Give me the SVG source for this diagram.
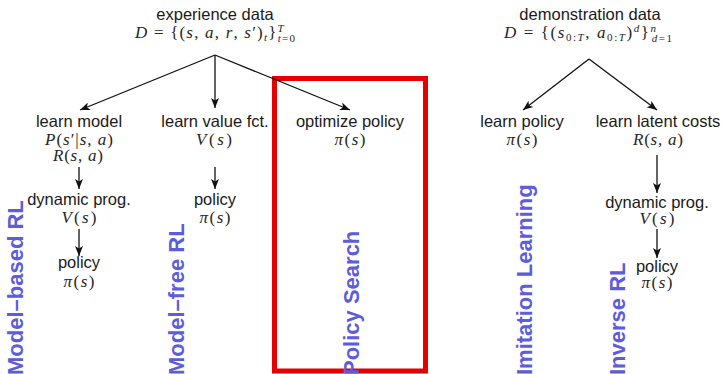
<svg xmlns="http://www.w3.org/2000/svg" width="724" height="374" viewBox="0 0 724 374">
<defs>
<marker id="ah" viewBox="0 0 10 8" refX="10" refY="4" markerWidth="11" markerHeight="8" markerUnits="userSpaceOnUse" orient="auto">
<path d="M0,0 L10,4 L0,8 L2.5,4 z" fill="#111"/>
</marker>
<style>
.t{font-family:"Liberation Sans",Arial,sans-serif;font-size:16.5px;fill:#1a1a1a;text-anchor:middle}
.m{font-family:"Liberation Serif","Times New Roman",serif;font-size:17px;fill:#262626;text-anchor:middle}
.i{font-style:italic}
.sub{font-size:11px}
.b{font-family:"Liberation Sans",Arial,sans-serif;font-size:22px;font-weight:bold;fill:#5c5cdc}
.c{stroke:#111;stroke-width:1.3;fill:none;marker-end:url(#ah)}
</style>
</defs>
<rect width="724" height="374" fill="#fff"/>

<g id="policy-search-box">
<rect x="274.5" y="78.5" width="151" height="292.5" fill="none" stroke="#e60000" stroke-width="5"/>
</g>

<g id="connectors">
<path class="c" d="M215,55 L80,110"/>
<path class="c" d="M215,55 L215,108"/>
<path class="c" d="M215,55 L350,110"/>
<path class="c" d="M79,167 L79,189"/>
<path class="c" d="M79,229 L79,256"/>
<path class="c" d="M215,167 L215,189"/>
<path class="c" d="M589,59 L523,110"/>
<path class="c" d="M589,59 L657,110"/>
<path class="c" d="M657,155 L657,193"/>
<path class="c" d="M657,229 L657,258"/>
</g>

<g id="experience-data">
<text class="t" x="215" y="20">experience data</text>
<text class="m" x="215" y="38" textLength="160" lengthAdjust="spacing"><tspan class="i">D</tspan> = {(<tspan class="i">s</tspan>, <tspan class="i">a</tspan>, <tspan class="i">r</tspan>, <tspan class="i">s</tspan>′)<tspan class="i sub" dy="3">t</tspan><tspan dy="-3">}</tspan><tspan class="i sub" dy="-6">T</tspan><tspan class="sub" dx="-7" dy="10"><tspan class="i">t</tspan>=0</tspan></text>
</g>

<g id="learn-model">
<text class="t" x="79" y="127">learn model</text>
<text class="m" x="79" y="145" textLength="68" lengthAdjust="spacing"><tspan class="i">P</tspan>(<tspan class="i">s</tspan>′|<tspan class="i">s</tspan>, <tspan class="i">a</tspan>)</text>
<text class="m" x="78" y="161" textLength="50" lengthAdjust="spacing"><tspan class="i">R</tspan>(<tspan class="i">s</tspan>, <tspan class="i">a</tspan>)</text>
</g>

<g id="learn-value">
<text class="t" x="215" y="127">learn value fct.</text>
<text class="m" x="214" y="145" textLength="36" lengthAdjust="spacing"><tspan class="i">V</tspan>(<tspan class="i">s</tspan>)</text>
</g>

<g id="optimize-policy">
<text class="t" x="350" y="127">optimize policy</text>
<text class="m" x="350" y="145" textLength="31" lengthAdjust="spacing"><tspan class="i">π</tspan>(<tspan class="i">s</tspan>)</text>
</g>

<g id="dynamic-prog-1">
<text class="t" x="79" y="205">dynamic prog.</text>
<text class="m" x="79" y="223" textLength="35" lengthAdjust="spacing"><tspan class="i">V</tspan>(<tspan class="i">s</tspan>)</text>
</g>

<g id="policy-1">
<text class="t" x="79" y="268">policy</text>
<text class="m" x="79" y="287" textLength="31" lengthAdjust="spacing"><tspan class="i">π</tspan>(<tspan class="i">s</tspan>)</text>
</g>

<g id="policy-2">
<text class="t" x="215" y="205">policy</text>
<text class="m" x="215" y="223" textLength="31" lengthAdjust="spacing"><tspan class="i">π</tspan>(<tspan class="i">s</tspan>)</text>
</g>

<g id="demonstration-data">
<text class="t" x="590" y="20">demonstration data</text>
<text class="m" x="588" y="38" textLength="168" lengthAdjust="spacing"><tspan class="i">D</tspan> = {(<tspan class="i">s</tspan><tspan class="sub" dy="3">0:<tspan class="i">T</tspan></tspan><tspan dy="-3">, </tspan><tspan class="i">a</tspan><tspan class="sub" dy="3">0:<tspan class="i">T</tspan></tspan><tspan dy="-3">)</tspan><tspan class="i sub" dy="-6">d</tspan><tspan dy="6">}</tspan><tspan class="i sub" dy="-6">n</tspan><tspan class="sub" dx="-6" dy="10"><tspan class="i">d</tspan>=1</tspan></text>
</g>

<g id="learn-policy">
<text class="t" x="522" y="127">learn policy</text>
<text class="m" x="522" y="145" textLength="31" lengthAdjust="spacing"><tspan class="i">π</tspan>(<tspan class="i">s</tspan>)</text>
</g>

<g id="learn-latent-costs">
<text class="t" x="658" y="127">learn latent costs</text>
<text class="m" x="658" y="145" textLength="50" lengthAdjust="spacing"><tspan class="i">R</tspan>(<tspan class="i">s</tspan>, <tspan class="i">a</tspan>)</text>
</g>

<g id="dynamic-prog-2">
<text class="t" x="657" y="208">dynamic prog.</text>
<text class="m" x="657" y="224" textLength="35" lengthAdjust="spacing"><tspan class="i">V</tspan>(<tspan class="i">s</tspan>)</text>
</g>

<g id="policy-3">
<text class="t" x="657" y="272">policy</text>
<text class="m" x="657" y="288" textLength="31" lengthAdjust="spacing"><tspan class="i">π</tspan>(<tspan class="i">s</tspan>)</text>
</g>

<g id="category-labels">
<text class="b" transform="translate(23,375) rotate(-90)">Model–based RL</text>
<text class="b" transform="translate(184,375) rotate(-90)">Model–free RL</text>
<text class="b" transform="translate(359,375) rotate(-90)">Policy Search</text>
<text class="b" transform="translate(532,375) rotate(-90)">Imitation Learning</text>
<text class="b" transform="translate(625,375) rotate(-90)">Inverse RL</text>
</g>
</svg>
